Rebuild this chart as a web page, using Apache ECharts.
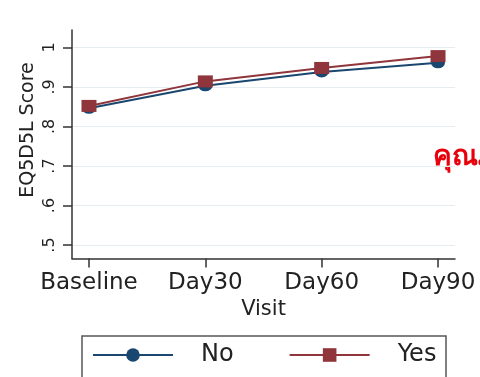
<!DOCTYPE html>
<html>
<head>
<meta charset="utf-8">
<script src="https://cdn.jsdelivr.net/npm/echarts@6/dist/echarts.min.js"></script>
<style>
html,body{margin:0;padding:0;background:#fff;}
#chart{width:480px;height:377px;}
</style>
</head>
<body>
<div id="chart"></div>
<script>
var categories = ['Baseline', 'Day30', 'Day60', 'Day90'];
var seriesNames = ['No', 'Yes'];
var valuesNo = [0.846, 0.903, 0.938, 0.961];
var valuesYes = [0.852, 0.914, 0.948, 0.978];
var yTicks = [0.5, 0.6, 0.7, 0.8, 0.9, 1];
var yTitle = 'EQ5D5L Score';
var xTitle = 'Visit';
var sideText = 'คุณภาพชีวิต';

var FONT = 'DejaVu Sans';
function pts(vals) { return vals.map(function (v, i) { return [i, v]; }); }

var chart = echarts.init(document.getElementById('chart'), null, {renderer: 'canvas'});
chart.setOption({
  animation: false,
  backgroundColor: '#fff',
  grid: {left: 72, right: 25, top: 30, bottom: 118.5, containLabel: false},
  xAxis: {
    type: 'value', min: -0.146, max: 3.146,
    name: xTitle, nameLocation: 'middle', nameGap: 38,
    nameTextStyle: {fontFamily: FONT, fontSize: 21, color: '#222'},
    axisLine: {show: true, onZero: false, lineStyle: {color: '#333', width: 1.5}},
    axisTick: {show: true, customValues: [0, 1, 2, 3], length: 9, lineStyle: {color: '#333', width: 1.5}},
    axisLabel: {customValues: [0, 1, 2, 3], margin: 13, fontFamily: FONT, fontSize: 23, color: '#222',
      formatter: function (v) { return categories[Math.round(v)]; }},
    splitLine: {show: false}
  },
  yAxis: {
    type: 'value', min: 0.466, max: 1.044,
    axisLine: {show: true, onZero: false, lineStyle: {color: '#333', width: 1.5}},
    axisTick: {show: true, customValues: yTicks, length: 9, lineStyle: {color: '#333', width: 1.5}},
    axisLabel: {customValues: yTicks, rotate: 90, margin: 14, fontFamily: FONT, fontSize: 16, color: '#222',
      formatter: function (v) { return v >= 0.999 ? '1' : ('.' + Math.round(v * 10)); }},
    splitLine: {show: true, lineStyle: {color: '#e6edf0', width: 1}}
  },
  legend: {
    left: 92, top: 343, padding: 0, itemWidth: 80, itemHeight: 17, itemGap: 55,
    textStyle: {fontFamily: FONT, fontSize: 24, color: '#222', padding: [0, 0, 0, 23]},
    data: seriesNames
  },
  graphic: [
    {type: 'rect', shape: {x: 82, y: 336, width: 364, height: 60}, style: {fill: 'none', stroke: '#555', lineWidth: 1.5}, z: -1},
    {type: 'text', x: 28, y: 130, rotation: Math.PI / 2,
      style: {text: yTitle, fontFamily: FONT, fontSize: 19, fill: '#222', textAlign: 'center', textVerticalAlign: 'middle'}},
    {type: 'text', x: 433, y: 157,
      style: {text: sideText, fontFamily: 'sans-serif', fontWeight: 'bold', fontSize: 28, fill: '#e8000b', textAlign: 'left', textVerticalAlign: 'middle'}}
  ],
  series: [
    {name: seriesNames[0], type: 'line', data: pts(valuesNo), symbol: 'circle', symbolSize: [14, 11],
      itemStyle: {color: '#1a476f'}, lineStyle: {color: '#1a476f', width: 2}, z: 2},
    {name: seriesNames[1], type: 'line', data: pts(valuesYes), symbol: 'rect', symbolSize: [15, 12],
      itemStyle: {color: '#90353b'}, lineStyle: {color: '#90353b', width: 2}, z: 3}
  ]
});
</script>
</body>
</html>
